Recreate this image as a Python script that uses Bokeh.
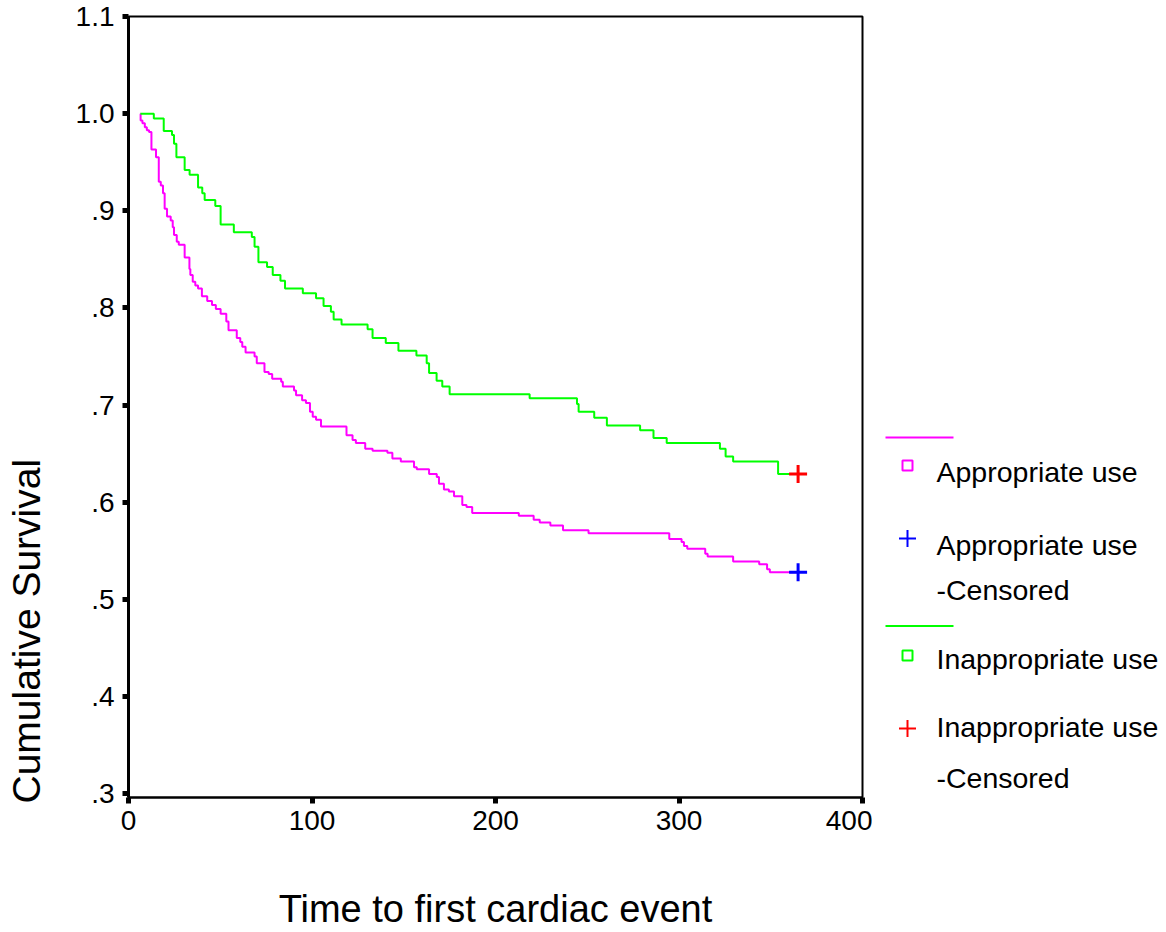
import math
from bokeh.plotting import figure
from bokeh.models import Range1d, FixedTicker, CustomJSTickFormatter
from bokeh.layouts import row
from bokeh.embed import file_html
from bokeh.resources import INLINE
from bokeh.core.properties import value

# ---------------- data ----------------
app_time = [6.5, 6.6, 7.6, 8.9, 10.0, 11.2, 12.5, 15.0, 16.5, 17.6, 18.8, 19.7, 21.0, 23.0, 24.1,
            24.8, 26.3, 27.4, 30.6, 33.2, 33.7, 35.0, 36.4, 37.9, 40.0, 42.9, 45.5, 47.6, 50.2, 53.3,
            54.5, 59.0, 60.9, 62.0, 63.8, 68.7, 69.9, 74.1, 76.4, 78.3, 83.2, 84.1, 90.2, 91.3, 94.6,
            96.7, 98.9, 100.4, 102.2, 104.9, 118.8, 122.1, 123.9, 129.0, 133.0, 141.1, 143.8, 148.4, 155.6, 157.1,
            163.8, 168.0, 169.2, 171.9, 174.6, 177.4, 181.9, 184.2, 187.3, 212.7, 220.8, 224.1, 229.9, 236.8, 250.7,
            294.7, 301.4, 302.7, 304.5, 314.3, 315.6, 329.5, 343.7, 348.0, 349.5]
app_surv = [1.000, 0.993, 0.990, 0.986, 0.983, 0.981, 0.963, 0.955, 0.930, 0.926, 0.918, 0.902, 0.894, 0.890, 0.883,
            0.875, 0.868, 0.865, 0.852, 0.840, 0.834, 0.827, 0.823, 0.820, 0.812, 0.807, 0.803, 0.799, 0.794, 0.786,
            0.777, 0.769, 0.765, 0.760, 0.754, 0.750, 0.743, 0.734, 0.732, 0.727, 0.724, 0.719, 0.715, 0.710, 0.705,
            0.702, 0.693, 0.688, 0.685, 0.678, 0.669, 0.664, 0.661, 0.655, 0.653, 0.651, 0.645, 0.642, 0.636, 0.634,
            0.629, 0.626, 0.619, 0.613, 0.611, 0.606, 0.597, 0.595, 0.589, 0.586, 0.582, 0.579, 0.576, 0.571, 0.568,
            0.562, 0.559, 0.555, 0.552, 0.547, 0.544, 0.539, 0.536, 0.531, 0.528]
app_censor_time = 364.9

inapp_time = [6.5, 13.8, 19.2, 23.7, 24.8, 26.1, 30.6, 33.3, 37.9, 40.2, 41.5, 47.3, 50.2, 57.4, 67.2,
              68.7, 70.8, 75.5, 78.6, 82.8, 85.3, 95.0, 102.2, 106.3, 110.3, 111.8, 116.1, 130.3, 133.0, 140.2,
              147.1, 156.9, 162.5, 163.8, 167.9, 171.0, 175.0, 218.6, 244.4, 245.3, 253.8, 260.7, 278.8, 286.1, 293.3,
              322.3, 325.4, 329.5, 354.0]
inapp_surv = [1.000, 0.995, 0.982, 0.978, 0.969, 0.955, 0.942, 0.937, 0.924, 0.918, 0.911, 0.905, 0.886, 0.878, 0.873,
              0.863, 0.847, 0.842, 0.834, 0.828, 0.820, 0.815, 0.810, 0.802, 0.796, 0.788, 0.783, 0.778, 0.769, 0.764,
              0.756, 0.751, 0.743, 0.733, 0.725, 0.719, 0.711, 0.707, 0.701, 0.693, 0.687, 0.679, 0.674, 0.666, 0.661,
              0.655, 0.647, 0.642, 0.629]
inapp_censor_time = 364.9

x_ticks = [0, 100, 200, 300, 400]
y_ticks = [0.3, 0.4, 0.5, 0.6, 0.7, 0.8, 0.9, 1.0, 1.1]

group_names = ["Appropriate use", "Inappropriate use"]
line_colors = ["#FF00FF", "#00FF00"]
censor_colors = ["#0000FF", "#FF0000"]
censor_suffix = "-Censored"
x_label = "Time to first cardiac event"
y_label = "Cumulative Survival"

FONT = "Liberation Sans"
PAGE_H = 932
FRAME_W, FRAME_H = 734, 781
TOP, BOTTOM = 16, 135
YLAB_W = 60
SIDE_H = PAGE_H - TOP  # height of the side panels' drawing area (starts at the frame top)

# ---------------- y-axis title panel ----------------
yl = figure(frame_width=YLAB_W, frame_height=SIDE_H,
            x_range=Range1d(0, YLAB_W), y_range=Range1d(SIDE_H, 0),
            x_axis_type=None, y_axis_type=None,
            output_backend="svg", toolbar_location=None,
            min_border_left=0, min_border_right=0, min_border_top=TOP, min_border_bottom=0)
yl.grid.visible = False
yl.outline_line_color = None
yl.text([25.5], [803 - TOP], text=[y_label], angle=math.pi / 2,
        text_font=value(FONT), text_font_size="39px",
        text_baseline="middle", text_align="left", text_color="black")

# ---------------- main chart ----------------
p = figure(frame_width=FRAME_W, frame_height=FRAME_H,
           x_range=Range1d(0, 400), y_range=Range1d(0.296, 1.1),
           output_backend="svg", toolbar_location=None,
           min_border_left=128 - YLAB_W, min_border_top=TOP, min_border_bottom=BOTTOM, min_border_right=10)
p.grid.visible = False
p.outline_line_color = "black"
p.outline_line_width = 2

groups = [(app_time, app_surv, app_censor_time), (inapp_time, inapp_surv, inapp_censor_time)]
for (t, s, ct), lc, cc in zip(groups, line_colors, censor_colors):
    xs = list(t) + [ct]
    ys = list(s) + [s[-1]]
    p.step(xs, ys, mode="after", line_color=lc, line_width=2)
    p.scatter([ct], [s[-1]], marker="cross", size=18, line_color=cc, line_width=3)

p.xaxis.ticker = FixedTicker(ticks=x_ticks)
p.yaxis.ticker = FixedTicker(ticks=y_ticks)
p.yaxis.formatter = CustomJSTickFormatter(code="""
    var s = tick.toFixed(1);
    return tick < 1 ? s.replace(/^0/, '') : s;
""")
for ax in (p.xaxis[0], p.yaxis[0]):
    ax.axis_line_color = "black"
    ax.major_tick_line_color = "black"
    ax.major_tick_line_width = 5
    ax.major_tick_out = 6
    ax.major_tick_in = 0
    ax.minor_tick_line_color = None
    ax.major_label_text_font = FONT
    ax.major_label_text_font_size = "28px"
    ax.major_label_text_color = "black"
p.yaxis.axis_line_width = 3
p.xaxis.axis_line_width = 2
p.xaxis.major_label_standoff = 7
p.yaxis.major_label_standoff = 8
p.xaxis.axis_label = x_label
p.xaxis.axis_label_text_font = FONT
p.xaxis.axis_label_text_font_size = "38px"
p.xaxis.axis_label_text_font_style = "normal"
p.xaxis.axis_label_text_color = "black"
p.xaxis.axis_label_standoff = 55

# ---------------- legend panel ----------------
LG_W = 290
lg = figure(frame_width=LG_W, frame_height=SIDE_H,
            x_range=Range1d(0, LG_W), y_range=Range1d(SIDE_H, 0),
            x_axis_type=None, y_axis_type=None,
            output_backend="svg", toolbar_location=None,
            min_border_left=0, min_border_right=0, min_border_top=TOP, min_border_bottom=0)
lg.grid.visible = False
lg.outline_line_color = None

# legend layout positions (pixels inside the legend panel, measured from the frame top)
line_y = [421, 609.5]
sq_y = [449, 639]
label_y = [455, 642]
plus_y = [522, 712]
plus_label_y = [528, 710]
cens_label_y = [573, 761]
for i, name in enumerate(group_names):
    lg.line([13, 81], [line_y[i], line_y[i]], line_color=line_colors[i], line_width=2)
    lg.scatter([35], [sq_y[i]], marker="square", size=10, fill_color=None,
               line_color=line_colors[i], line_width=2)
    lg.scatter([35], [plus_y[i]], marker="cross", size=17, line_color=censor_colors[i], line_width=2)
    for ty, txt in ((label_y[i], name), (plus_label_y[i], name), (cens_label_y[i], censor_suffix)):
        lg.text([64], [ty], text=[txt], text_font=value(FONT), text_font_size="28.5px",
                text_baseline="middle", text_align="left", text_color="black")

layout = row(yl, p, lg, spacing=0)
open("out.html", "w").write(file_html(layout, INLINE))
